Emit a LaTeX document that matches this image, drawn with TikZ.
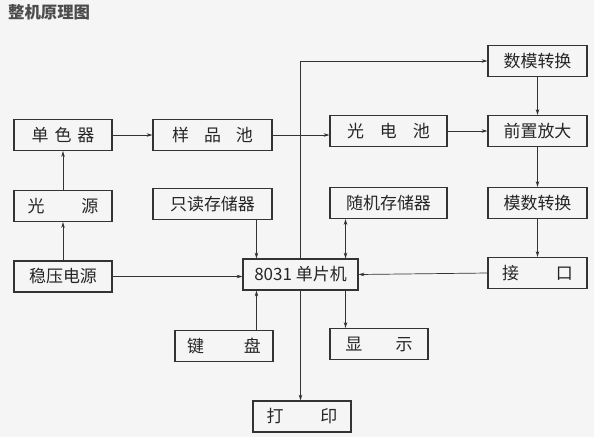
\documentclass[tikz,border=0pt]{standalone}
\usepackage{fontspec}
\newfontfamily\cjk{Noto Sans CJK SC}
\usetikzlibrary{arrows.meta,calc}

\begin{document}
\begin{tikzpicture}[
    x=0.03cm, y=-0.03cm,
    blk/.style={draw=black!80, line width=0.9pt, inner sep=0pt, minimum height=0.93cm, font=\cjk\fontsize{14.5}{16}\selectfont, text=black!85},
    arr/.style={-{Stealth[length=5pt,width=3pt]}, line width=0.6pt, black!80},
    darr/.style={{Stealth[length=5pt,width=3pt]}-{Stealth[length=5pt,width=3pt]}, line width=0.6pt, black!80}
]
\fill[black!4] (0,0) rectangle (594,437);
\useasboundingbox (0,0) rectangle (594,437);

\node[anchor=west, font=\cjk\bfseries\fontsize{14}{16}\selectfont, text=black!70] (title) at (4,12) {整机原理图};

% light source side
\node[blk, minimum width=2.94cm] (mono) at (63,135) {单\hspace{0.18cm}色\hspace{0.18cm}器};
\node[blk, minimum width=2.94cm] (lamp) at (63,206) {光\hspace{1.1cm}源};
\node[blk, minimum width=2.94cm] (psu) at (63,276.5) {稳压电源};

% middle column
\node[blk, minimum width=3.57cm] (cell) at (212.5,135) {样\hspace{0.45cm}品\hspace{0.45cm}池};
\node[blk, minimum width=3.57cm] (rom) at (212.5,204) {只读存储器};
\node[blk, minimum width=3.45cm] (mcu) at (300.5,274.5) {8031 单片机};
\node[blk, minimum width=2.94cm] (keys) at (224,346) {键\hspace{1.2cm}盘};
\node[blk, minimum width=2.94cm] (disp) at (379,344) {显\hspace{1.0cm}示};
\node[blk, minimum width=2.94cm] (prn) at (302,416.5) {打\hspace{1.1cm}印};
\node[blk, minimum width=3.51cm] (pcell) at (388.5,131) {光\hspace{0.48cm}电\hspace{0.48cm}池};
\node[blk, minimum width=3.51cm] (ram) at (388.5,203) {随机存储器};

% converter column
\node[blk, minimum width=2.97cm] (dac) at (537.5,61) {数模转换};
\node[blk, minimum width=2.97cm] (amp) at (537.5,131) {前置放大};
\node[blk, minimum width=2.97cm] (adc) at (537.5,203) {模数转换};
\node[blk, minimum width=2.97cm] (port) at (537.5,273) {接\hspace{1.1cm}口};

\coordinate (romin) at ($(mcu.north west)+(14,0)$);
\coordinate (ramin) at ($(mcu.north east)+(-13,0)$);

\draw[arr] (mono.east) -- (cell.west);
\draw[arr] (lamp.north) -- (mono.south);
\draw[arr] (psu.north) -- (lamp.south);
\draw[arr] (psu.east) -- (psu.east -| mcu.west);
\draw[arr] (rom.south -| romin) -- (romin);
\draw[arr] (keys.north -| romin) -- (mcu.south -| romin);
\draw[darr] (ram.south -| ramin) -- (ramin);
\draw[arr] (mcu.south -| ramin) -- (disp.north -| ramin);
\draw[arr] (mcu.north) |- (dac.west);
\draw[arr] (mcu.south) -- (mcu.south |- prn.north);
\draw[arr] (cell.east) -- (cell.east -| pcell.west);
\draw[arr] (pcell.east) -- (amp.west);
\draw[arr] (dac.south) -- (amp.north);
\draw[arr] (amp.south) -- (adc.north);
\draw[arr] (adc.south) -- (port.north);
\draw[arr] (port.west) -- (mcu.east);
\end{tikzpicture}
\end{document}
